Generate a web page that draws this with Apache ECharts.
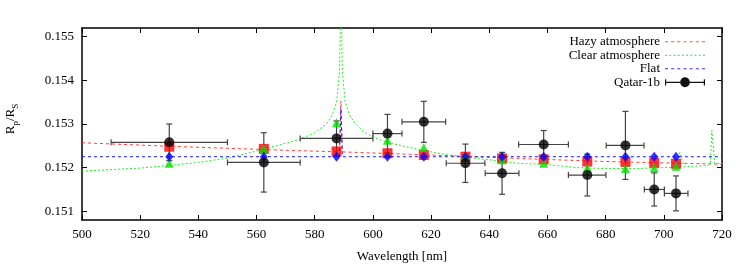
<!DOCTYPE html>
<html>
<head>
<meta charset="utf-8">
<script src="https://cdn.jsdelivr.net/npm/echarts@6/dist/echarts.min.js"></script>
<style>
    html, body { margin: 0; padding: 0; background: #fff; }
    #chart { width: 747px; height: 274px; }
</style>
</head>
<body>
<div id="chart"></div>
<script>
    // binned transmission spectrum (Qatar-1b)
    let wavelength = [530, 562.5, 587.5, 605, 617.5, 631.8, 644.4, 658.7, 673.7, 686.8, 696.7, 704.2];
    let binLow = [510, 550, 575, 600, 610, 625.2, 638.6, 650.1, 667.2, 680.2, 693.3, 700.2];
    let binHigh = [550, 575, 600, 610, 625, 638.5, 650.2, 667.2, 680.1, 693.2, 700.2, 708.3];
    let rpRs = [0.15258, 0.15212, 0.15267, 0.15278, 0.15305, 0.15210, 0.15187, 0.15253, 0.15183, 0.15251, 0.15150, 0.15141];
    let rpRsErr = [0.00042, 0.00068, 0.00040, 0.00044, 0.00047, 0.00044, 0.00048, 0.00032, 0.00048, 0.00078, 0.00038, 0.00040];

    // models binned to the same channels
    let hazyBin = [0.15248, 0.15243, 0.15237, 0.15233, 0.15229, 0.15225, 0.15221, 0.15219, 0.15214, 0.15213, 0.15211, 0.15209];
    let clearBin = [0.15210, 0.15244, 0.15303, 0.15263, 0.15246, 0.15226, 0.15218, 0.15210, 0.15199, 0.15198, 0.15200, 0.15203];
    let flatBin = [0.15225, 0.15225, 0.15225, 0.15225, 0.15225, 0.15225, 0.15225, 0.15225, 0.15225, 0.15225, 0.15225, 0.15225];

    // model curves
    let hazyWl = [500, 530, 560, 588.5, 589, 589.5, 620, 650, 680, 720];
    let hazyCurve = [0.15257, 0.15249, 0.15242, 0.15236, 0.15353, 0.15236, 0.15229, 0.15221, 0.15214, 0.15208];
    let clearWl = [500, 520, 530, 540, 550, 560, 570, 575, 580, 584, 586, 587.5, 588.5, 589, 589.5, 590.5, 592, 594, 597, 600, 604, 610, 617, 625, 632, 640, 650, 660, 670, 680, 690, 700, 704, 705.5, 707, 710, 715, 716, 716.5, 717.5, 720];
    let clearCurve = [0.15192, 0.15199, 0.15205, 0.15212, 0.15222, 0.15238, 0.15256, 0.15265, 0.15280, 0.15300, 0.15320, 0.15350, 0.15420, 0.15600, 0.15420, 0.15350, 0.15320, 0.15300, 0.15282, 0.15270, 0.15260, 0.15250, 0.15240, 0.15230, 0.15224, 0.15218, 0.15210, 0.15207, 0.15200, 0.15198, 0.15198, 0.15200, 0.15201, 0.15235, 0.15202, 0.15203, 0.15205, 0.15210, 0.15285, 0.15210, 0.15210];
    let flatWl = [500, 588.5, 589, 589.5, 720];
    let flatCurve = [0.15225, 0.15225, 0.15335, 0.15225, 0.15225];

    let yTicks = [0.151, 0.152, 0.153, 0.154, 0.155];

    function pairs(xs, ys) {
        return xs.map(function (x, i) { return [x, ys[i]]; });
    }

    // legend icon: a dashed stroke made of small rects, 40px wide
    function dashIcon(dash, gap) {
        let p = 'path://';
        for (let x = 0; x < 40; x += dash + gap) {
            let w = Math.min(dash, 40 - x);
            p += 'M' + x + ',4.4h' + w + 'v1.2h-' + w + 'Z';
        }
        return p + 'M0,0h0.01v0.01h-0.01Z M0,10h0.01v0.01h-0.01Z';
    }

    let errData = wavelength.map(function (w, i) {
        return [w, rpRs[i], binLow[i], binHigh[i], rpRsErr[i]];
    });

    function renderErr(params, api) {
        let x = api.value(0), y = api.value(1), e = api.value(4);
        let l = api.coord([api.value(2), y]);
        let r = api.coord([api.value(3), y]);
        let t = api.coord([x, y + e]);
        let b = api.coord([x, y - e]);
        let cap = 3;
        let st = {stroke: '#444', lineWidth: 1.2};
        return {
            type: 'group',
            children: [
                {type: 'line', shape: {x1: l[0], y1: l[1], x2: r[0], y2: r[1]}, style: st},
                {type: 'line', shape: {x1: l[0], y1: l[1] - cap, x2: l[0], y2: l[1] + cap}, style: st},
                {type: 'line', shape: {x1: r[0], y1: r[1] - cap, x2: r[0], y2: r[1] + cap}, style: st},
                {type: 'line', shape: {x1: t[0], y1: t[1], x2: b[0], y2: b[1]}, style: st},
                {type: 'line', shape: {x1: t[0] - cap, y1: t[1], x2: t[0] + cap, y2: t[1]}, style: st},
                {type: 'line', shape: {x1: b[0] - cap, y1: b[1], x2: b[0] + cap, y2: b[1]}, style: st}
            ]
        };
    }

    let font = 'Liberation Serif';
    let chart = echarts.init(document.getElementById('chart'));

    let xBase = {
        type: 'value', min: 500, max: 720, interval: 20,
        splitLine: {show: false},
        axisLine: {lineStyle: {color: '#000', width: 1.5}},
        axisTick: {inside: true, length: 5, lineStyle: {color: '#000'}}
    };
    let yBase = {
        type: 'value', min: 0.1508, max: 0.1552,
        splitLine: {show: false},
        axisLine: {show: true, lineStyle: {color: '#000', width: 1.5}},
        axisTick: {inside: true, length: 5, customValues: yTicks, lineStyle: {color: '#000'}}
    };

    chart.setOption({
        backgroundColor: '#fff',
        animation: false,
        textStyle: {fontFamily: font},
        grid: {left: 82, right: 25, top: 28, bottom: 54, outerBoundsMode: 'none'},
        legend: {
            orient: 'vertical',
            align: 'right',
            right: 37,
            top: 30,
            itemWidth: 40,
            itemHeight: 10,
            itemGap: 0,
            symbolKeepAspect: false,
            textStyle: {fontFamily: font, fontSize: 13, color: '#000', lineHeight: 13.5},
            data: [
                {name: 'Hazy atmosphere', icon: dashIcon(3, 3), itemStyle: {color: '#ff5050'}},
                {name: 'Clear atmosphere', icon: dashIcon(2, 2), itemStyle: {color: '#22ee22'}},
                {name: 'Flat', icon: dashIcon(3, 3), itemStyle: {color: '#3030ff'}},
                {name: 'Qatar-1b', itemStyle: {color: '#111'},
                    icon: 'path://M0,4.4H40V5.6H0Z M0,2H1.2V8H0Z M38.8,2H40V8H38.8Z M15.2,5A4.8,4.8,0,1,1,24.8,5A4.8,4.8,0,1,1,15.2,5Z'}
            ]
        },
        xAxis: [
            Object.assign({}, xBase, {
                position: 'bottom',
                name: 'Wavelength [nm]',
                nameLocation: 'middle',
                nameGap: 30,
                nameTextStyle: {fontFamily: font, fontSize: 13, color: '#000'},
                axisLabel: {margin: 8, fontFamily: font, fontSize: 13, color: '#000'}
            }),
            Object.assign({}, xBase, {position: 'top', axisLabel: {show: false}})
        ],
        yAxis: [
            Object.assign({}, yBase, {
                position: 'left',
                name: '{r|R}{s|p}{r|/R}{s|S}',
                nameLocation: 'middle',
                nameGap: 62,
                nameTextStyle: {
                    color: '#000',
                    padding: [0, 0, 0, 10],
                    rich: {
                        r: {fontFamily: font, fontSize: 13, color: '#000', verticalAlign: 'top', lineHeight: 13},
                        s: {fontFamily: font, fontSize: 9, color: '#000', verticalAlign: 'bottom', padding: [7, 0, 0, 0]}
                    }
                },
                axisLabel: {
                    margin: 8, fontFamily: font, fontSize: 13, color: '#000',
                    customValues: yTicks,
                    formatter: function (v) { return v.toFixed(3); }
                }
            }),
            Object.assign({}, yBase, {position: 'right', axisLabel: {show: false}})
        ],
        series: [
            {
                name: 'Hazy atmosphere', type: 'line', data: pairs(hazyWl, hazyCurve),
                symbol: 'none', z: 1,
                lineStyle: {color: '#ff3a3a', width: 1, type: [3, 3]},
                itemStyle: {color: '#ff3a3a'}
            },
            {
                name: 'Clear atmosphere', type: 'line', data: pairs(clearWl, clearCurve),
                symbol: 'none', z: 1,
                lineStyle: {color: '#22ee22', width: 1, type: [2, 2]},
                itemStyle: {color: '#22ee22'}
            },
            {
                name: 'Flat', type: 'line', data: pairs(flatWl, flatCurve),
                symbol: 'none', z: 1,
                lineStyle: {color: '#1a1aff', width: 1, type: [3, 3]},
                itemStyle: {color: '#1a1aff'}
            },
            {
                name: 'Qatar-1b', type: 'custom', data: errData, renderItem: renderErr,
                encode: {x: [0, 2, 3], y: [1]}, z: 2, silent: true
            },
            {
                type: 'scatter', data: pairs(wavelength, hazyBin), symbol: 'rect', symbolSize: 10,
                itemStyle: {color: '#ff0000'}, z: 3
            },
            {
                type: 'scatter', data: pairs(wavelength, clearBin), symbol: 'triangle', symbolSize: 9,
                itemStyle: {color: '#00e000'}, z: 4
            },
            {
                type: 'scatter', data: pairs(wavelength, flatBin), symbol: 'diamond', symbolSize: [8, 10],
                itemStyle: {color: '#0000ff'}, z: 5
            },
            {
                name: 'Qatar-1b', type: 'scatter', data: pairs(wavelength, rpRs), symbol: 'circle', symbolSize: 10,
                itemStyle: {color: '#000'}, z: 6
            }
        ]
    });
</script>
</body>
</html>
